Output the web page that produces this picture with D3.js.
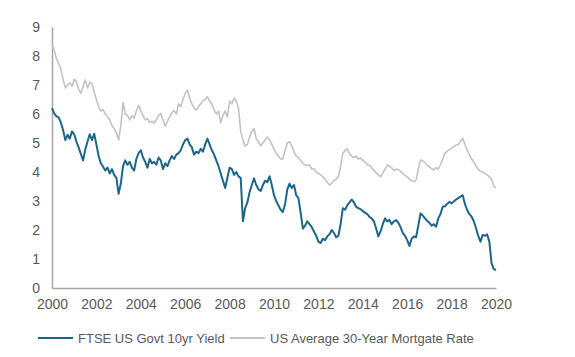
<!DOCTYPE html>
<html>
<head>
<meta charset="utf-8">
<script src="https://cdn.jsdelivr.net/npm/d3@7"></script>
<style>
  html, body { margin: 0; padding: 0; background: #ffffff; }
  svg { display: block; font-family: "Liberation Sans", Arial, sans-serif; }
</style>
</head>
<body>
<svg id="chart" width="575" height="357"></svg>
<script>
// ---- Data (sampled every 0.1 year from 2000.0) ----
const startYear = 2000;
const stepYears = 0.1;

const govtYield = [
  6.20, 6.02, 5.92, 5.88, 5.70, 5.45, 5.10, 5.28, 5.15, 5.40,
  5.30, 5.05, 4.85, 4.62, 4.40, 4.78, 5.05, 5.30, 5.10, 5.32,
  4.95, 4.55, 4.30, 4.18, 4.05, 4.15, 3.95, 4.10, 3.90, 3.80,
  3.25, 3.60, 4.20, 4.40, 4.25, 4.35, 4.15, 4.05, 4.45, 4.65,
  4.75, 4.50, 4.35, 4.15, 4.45, 4.30, 4.35, 4.25, 4.50, 4.40,
  4.10, 4.30, 4.20, 4.40, 4.55, 4.45, 4.60, 4.65, 4.75, 4.95,
  5.10, 5.15, 4.95, 4.85, 4.60, 4.70, 4.65, 4.80, 4.70, 4.95,
  5.15, 4.95, 4.75, 4.60, 4.40, 4.20, 3.95, 3.70, 3.45, 3.80,
  4.15, 4.10, 3.90, 4.00, 3.85, 3.80, 2.30, 2.75, 2.95, 3.30,
  3.55, 3.78, 3.55, 3.40, 3.35, 3.55, 3.70, 3.65, 3.85, 3.55,
  3.20, 3.00, 2.85, 2.70, 2.62, 2.90, 3.40, 3.60, 3.45, 3.55,
  3.20, 3.10, 2.60, 2.05, 2.15, 2.30, 2.20, 2.10, 1.95, 1.80,
  1.60, 1.55, 1.70, 1.65, 1.78, 1.85, 2.00, 1.90, 1.75, 1.80,
  2.20, 2.75, 2.70, 2.85, 2.95, 3.05, 2.95, 2.80, 2.75, 2.72,
  2.65, 2.60, 2.55, 2.45, 2.40, 2.30, 2.05, 1.78, 1.95, 2.20,
  2.40, 2.30, 2.35, 2.20, 2.30, 2.34, 2.25, 2.10, 1.90, 1.80,
  1.65, 1.45, 1.70, 1.78, 1.75, 2.15, 2.57, 2.50, 2.40, 2.32,
  2.25, 2.15, 2.20, 2.11, 2.40, 2.55, 2.80, 2.82, 2.90, 2.97,
  2.92, 2.98, 3.05, 3.10, 3.15, 3.20, 2.90, 2.69, 2.55, 2.46,
  2.30, 2.06, 1.80, 1.60, 1.83, 1.80, 1.85, 1.60, 0.85, 0.65,
  0.62
];

const mortgageRate = [
  8.43, 8.20, 7.90, 7.75, 7.55, 7.20, 6.90, 7.00, 7.08, 6.95,
  7.20, 7.10, 6.85, 6.72, 6.95, 7.17, 6.90, 7.10, 7.05, 6.75,
  6.50, 6.25, 6.10, 6.15, 6.00, 5.90, 5.80, 5.60, 5.50, 5.35,
  5.10, 5.60, 6.40, 6.00, 5.95, 5.80, 5.95, 5.85, 6.10, 6.30,
  6.10, 5.95, 5.80, 5.85, 5.70, 5.75, 5.68, 5.80, 5.95, 6.02,
  5.80, 5.58, 5.75, 5.90, 6.05, 6.12, 6.00, 6.35, 6.25, 6.50,
  6.70, 6.83, 6.55, 6.35, 6.20, 6.14, 6.25, 6.35, 6.45, 6.50,
  6.60, 6.45, 6.35, 6.15, 6.00, 6.10, 5.70, 5.95, 6.10, 5.90,
  6.45, 6.35, 6.55, 6.45, 6.20, 5.40, 5.10, 4.90, 4.95, 5.20,
  5.40, 5.50, 5.15, 5.05, 4.90, 5.00, 5.10, 5.20, 5.12, 4.95,
  4.80, 4.65, 4.55, 4.45, 4.45, 4.75, 5.00, 5.05, 4.90, 4.70,
  4.55, 4.50, 4.40, 4.30, 4.24, 4.22, 4.25, 4.10, 4.12, 4.00,
  3.95, 3.90, 3.84, 3.75, 3.65, 3.55, 3.62, 3.70, 3.75, 3.84,
  4.20, 4.64, 4.75, 4.80, 4.62, 4.55, 4.50, 4.55, 4.45, 4.48,
  4.40, 4.35, 4.25, 4.24, 4.15, 4.05, 3.98, 3.90, 3.84, 3.95,
  4.10, 4.24, 4.20, 4.15, 4.05, 4.10, 4.08, 4.02, 3.95, 3.88,
  3.84, 3.75, 3.70, 3.67, 3.72, 4.10, 4.41, 4.38, 4.32, 4.24,
  4.18, 4.12, 4.07, 4.15, 4.10, 4.25, 4.45, 4.65, 4.72, 4.78,
  4.82, 4.88, 4.92, 4.95, 5.05, 5.16, 4.95, 4.76, 4.60, 4.45,
  4.35, 4.20, 4.10, 4.02, 4.00, 3.95, 3.90, 3.84, 3.75, 3.50,
  3.45
];

const xTickLabels = [2000, 2002, 2004, 2006, 2008, 2010, 2012, 2014, 2016, 2018, 2020];
const yTickLabels = [0, 1, 2, 3, 4, 5, 6, 7, 8, 9];
const seriesNames = ["FTSE US Govt 10yr Yield", "US Average 30-Year Mortgate Rate"];
const seriesColors = ["#1c6787", "#c3c3c3"];

// ---- Drawing ----
const svg = d3.select("#chart");
const x = d3.scaleLinear().domain([2000, 2020]).range([52, 496]);
const y = d3.scaleLinear().domain([0, 9]).range([288, 27]);

const axisColor = "#a6a6a6";
const textColor = "#595959";

const yAxis = svg.append("g")
  .attr("transform", "translate(52,0)")
  .call(d3.axisLeft(y).tickValues(yTickLabels).tickSize(0).tickPadding(12).tickFormat(d3.format("d")));
yAxis.select(".domain").attr("stroke", axisColor).attr("stroke-width", 1.5);
yAxis.selectAll("text").attr("fill", textColor).attr("font-size", 14)
  .attr("font-family", "Liberation Sans, Arial, sans-serif");

const xAxis = svg.append("g")
  .attr("transform", "translate(0,288)")
  .call(d3.axisBottom(x).tickValues(xTickLabels).tickSize(0).tickPadding(11).tickFormat(d3.format("d")));
xAxis.select(".domain").attr("stroke", axisColor).attr("stroke-width", 1.5);
xAxis.selectAll("text").attr("fill", textColor).attr("font-size", 14)
  .attr("font-family", "Liberation Sans, Arial, sans-serif");

const toPoints = vals => vals.map((v, i) => ({ t: startYear + i * stepYears, v }));
const line = d3.line().x(d => x(d.t)).y(d => y(d.v));

svg.append("path")
  .datum(toPoints(mortgageRate))
  .attr("fill", "none")
  .attr("stroke", seriesColors[1])
  .attr("stroke-width", 1.6)
  .attr("stroke-linejoin", "round")
  .attr("d", line);

svg.append("path")
  .datum(toPoints(govtYield))
  .attr("fill", "none")
  .attr("stroke", seriesColors[0])
  .attr("stroke-width", 2)
  .attr("stroke-linejoin", "round")
  .attr("d", line);

// ---- Legend ----
const legend = svg.append("g");
const legendItems = [
  { name: seriesNames[0], color: seriesColors[0], x0: 38 },
  { name: seriesNames[1], color: seriesColors[1], x0: 230 }
];
legendItems.forEach(it => {
  legend.append("line")
    .attr("x1", it.x0).attr("x2", it.x0 + 35)
    .attr("y1", 338).attr("y2", 338)
    .attr("stroke", it.color).attr("stroke-width", 2);
  legend.append("text")
    .attr("x", it.x0 + 40).attr("y", 343)
    .attr("fill", textColor).attr("font-size", 13)
    .attr("font-family", "Liberation Sans, Arial, sans-serif")
    .text(it.name);
});
</script>
</body>
</html>
